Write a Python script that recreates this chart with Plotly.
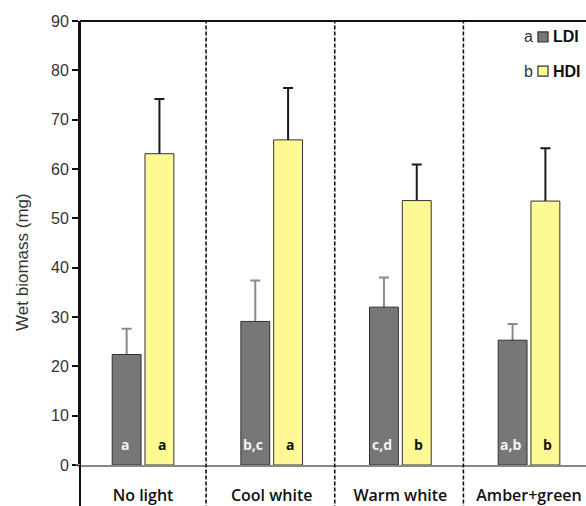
import plotly.graph_objects as go

categories = ["No light", "Cool white", "Warm white", "Amber+green"]
ldi_values = [22.4, 29.1, 32.0, 25.3]
ldi_errors = [5.2, 8.3, 6.0, 3.3]
ldi_letters = ["a", "b,c", "c,d", "a,b"]
hdi_values = [63.1, 65.9, 53.6, 53.5]
hdi_errors = [11.1, 10.5, 7.3, 10.7]
hdi_letters = ["a", "a", "b", "b"]
y_ticks = [0, 10, 20, 30, 40, 50, 60, 70, 80, 90]
legend_names = ["LDI", "HDI"]
legend_prefix = ["a", "b"]

GRAY = "#777777"
YELLOW = "#FFF993"
OUTLINE = "#333333"
LABEL_FONT = "Open Sans"
AXIS_FONT = "Arial, Liberation Sans, sans-serif"

fig = go.Figure()
# error-bar carriers (drawn first so the visible bars hide the lower half)
fig.add_trace(go.Bar(
    x=categories, y=ldi_values, offsetgroup="ldi", showlegend=False, hoverinfo="skip",
    marker=dict(color="rgba(0,0,0,0)", line=dict(width=0)),
    error_y=dict(type="data", array=ldi_errors, color="#8a8a8a", thickness=2, width=5),
))
fig.add_trace(go.Bar(
    x=categories, y=hdi_values, offsetgroup="hdi", showlegend=False, hoverinfo="skip",
    marker=dict(color="rgba(0,0,0,0)", line=dict(width=0)),
    error_y=dict(type="data", array=hdi_errors, color="#1a1a1a", thickness=2, width=5),
))
# visible bars
fig.add_trace(go.Bar(
    x=categories, y=ldi_values, name="LDI", offsetgroup="ldi", showlegend=False,
    marker=dict(color=GRAY, line=dict(color=OUTLINE, width=1)),
))
fig.add_trace(go.Bar(
    x=categories, y=hdi_values, name="HDI", offsetgroup="hdi", showlegend=False,
    marker=dict(color=YELLOW, line=dict(color=OUTLINE, width=1)),
))

annotations = []
# significance letters at the foot of each bar
for cat, lt in zip(categories, ldi_letters):
    annotations.append(dict(x=cat, y=0, xref="x", yref="y", text=f"<b>{lt}</b>",
                            showarrow=False, yanchor="bottom", yshift=9, xshift=-18.5,
                            font=dict(family=LABEL_FONT, size=14, color="#f2f2f2")))
for cat, lt in zip(categories, hdi_letters):
    annotations.append(dict(x=cat, y=0, xref="x", yref="y", text=f"<b>{lt}</b>",
                            showarrow=False, yanchor="bottom", yshift=9, xshift=18.5,
                            font=dict(family=LABEL_FONT, size=14, color="#111111")))

# y-axis title
annotations.append(dict(text="Wet biomass (mg)", xref="paper", yref="paper", x=-0.115, y=0.457,
                        textangle=-90, showarrow=False, xanchor="center", yanchor="middle",
                        font=dict(family=AXIS_FONT, size=17, color="#333333")))

shapes = []
# dashed separators between categories
for i in range(len(categories) - 1):
    shapes.append(dict(type="line", xref="x", yref="paper", x0=i + 0.49, x1=i + 0.49,
                       y0=-0.1, y1=1, line=dict(color="#111111", width=1.6, dash="4px,2px")))
# top border
shapes.append(dict(type="line", xref="paper", yref="paper", x0=0, x1=1, y0=1, y1=1,
                   line=dict(color="#111111", width=2)))
# y axis extension below zero
shapes.append(dict(type="line", xref="paper", yref="paper", x0=0, x1=0, y0=-0.1, y1=1,
                   line=dict(color="#111111", width=2)))
# zero line extension to the left of the y axis
shapes.append(dict(type="line", xref="paper", yref="y", x0=-0.008, x1=0, y0=0, y1=0,
                   line=dict(color="#888888", width=2)))

# legend (prefix letter, swatch, bold name)
legend_colors = [GRAY, YELLOW]
legend_y = [0.964, 0.887]
for name, pre, col, ly in zip(legend_names, legend_prefix, legend_colors, legend_y):
    shapes.append(dict(type="rect", xref="paper", yref="paper",
                       x0=0.905, x1=0.925, y0=ly - 0.0113, y1=ly + 0.0113,
                       fillcolor=col, line=dict(color=OUTLINE, width=1.2)))
    annotations.append(dict(text=pre, xref="paper", yref="paper", x=0.899, y=ly,
                            showarrow=False, xanchor="right", yanchor="middle",
                            font=dict(family=AXIS_FONT, size=16, color="#333333")))
    annotations.append(dict(text=f"<b>{name}</b>", xref="paper", yref="paper", x=0.929, y=ly,
                            showarrow=False, xanchor="left", yanchor="middle", xshift=1,
                            font=dict(family=AXIS_FONT, size=16, color="#111111")))

fig.update_layout(
    width=586, height=506,
    margin=dict(l=80, r=0, t=21, b=41),
    plot_bgcolor="white", paper_bgcolor="white",
    barmode="group", bargap=0.49, bargroupgap=0.12,
    shapes=shapes, annotations=annotations,
    showlegend=False,
)
fig.update_yaxes(
    range=[0, 90], tickvals=y_ticks, showgrid=False, zeroline=False,
    showline=True, linecolor="#111111", linewidth=2,
    ticks="outside", ticklen=6, tickwidth=1.5, tickcolor="#111111",
    tickfont=dict(family=AXIS_FONT, size=16, color="#333333"),
)
fig.update_xaxes(
    range=[-0.49, 3.443], showgrid=False, zeroline=False,
    showline=True, linecolor="#888888", linewidth=2,
    ticks="", ticklabelstandoff=15,
    tickfont=dict(family=LABEL_FONT, size=16, color="#111111", weight=600),
)

fig.write_html("out.html")
